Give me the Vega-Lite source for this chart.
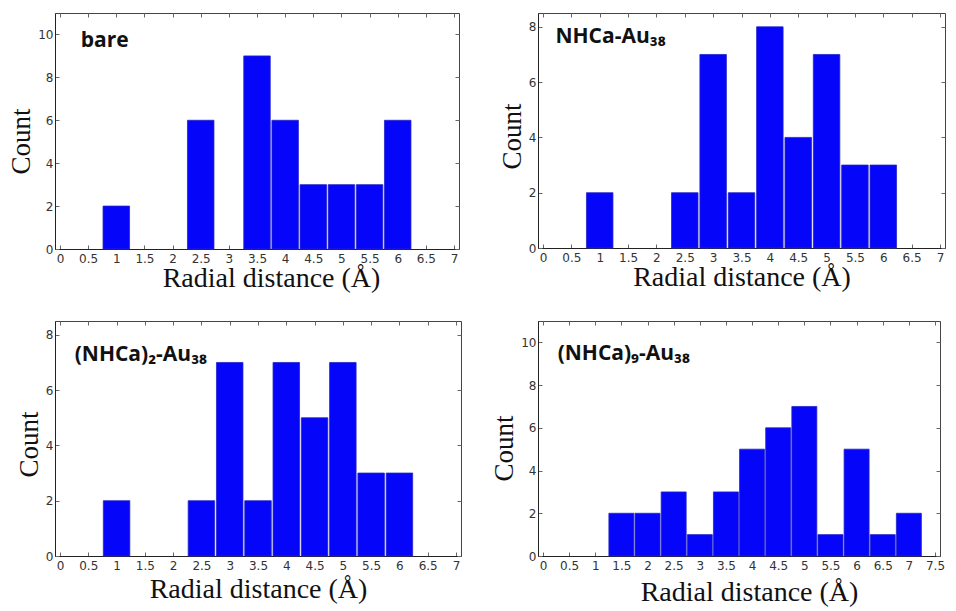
{
  "$schema": "https://vega.github.io/schema/vega-lite/v6.json",
  "background": "white",
  "padding": {"left": 7, "top": 12, "right": 6, "bottom": 5},
  "datasets": {
    "bare": [{"r": 1, "count": 2}, {"r": 2.5, "count": 6}, {"r": 3.5, "count": 9}, {"r": 4, "count": 6}, {"r": 4.5, "count": 3}, {"r": 5, "count": 3}, {"r": 5.5, "count": 3}, {"r": 6, "count": 6}],
    "n1": [{"r": 1, "count": 2}, {"r": 2.5, "count": 2}, {"r": 3, "count": 7}, {"r": 3.5, "count": 2}, {"r": 4, "count": 8}, {"r": 4.5, "count": 4}, {"r": 5, "count": 7}, {"r": 5.5, "count": 3}, {"r": 6, "count": 3}],
    "n2": [{"r": 1, "count": 2}, {"r": 2.5, "count": 2}, {"r": 3, "count": 7}, {"r": 3.5, "count": 2}, {"r": 4, "count": 7}, {"r": 4.5, "count": 5}, {"r": 5, "count": 7}, {"r": 5.5, "count": 3}, {"r": 6, "count": 3}],
    "n9": [{"r": 1.5, "count": 2}, {"r": 2, "count": 2}, {"r": 2.5, "count": 3}, {"r": 3, "count": 1}, {"r": 3.5, "count": 3}, {"r": 4, "count": 5}, {"r": 4.5, "count": 6}, {"r": 5, "count": 7}, {"r": 5.5, "count": 1}, {"r": 6, "count": 5}, {"r": 6.5, "count": 1}, {"r": 7, "count": 2}],
    "one": [{"k": 1}]
  },
  "config": {
    "view": {"stroke": "#444", "strokeWidth": 1},
    "axis": {
      "labelFont": "DejaVu Sans", "labelFontSize": 12, "labelColor": "#333", "labelOverlap": false, "labelFlush": false,
      "titleFont": "Liberation Serif", "titleFontWeight": "normal", "titleColor": "#111",
      "domainColor": "#222", "tickColor": "#666", "tickSize": -4, "grid": false
    },
    "text": {"font": "Open Sans", "fontWeight": "bold", "fontSize": 21, "align": "left", "baseline": "alphabetic", "color": "#111"}
  },
  "columns": 2,
  "spacing": {"column": 28, "row": 27},
  "concat": [
    {
      "width": 404, "height": 236,
      "resolve": {"axis": {"x": "independent", "y": "independent"}},
      "layer": [
        {
          "data": {"name": "bare"},
          "mark": {"type": "bar", "width": 26.5, "color": "#0505fa", "stroke": "#2424c8", "strokeWidth": 0.8},
          "encoding": {
            "x": {"field": "r", "type": "quantitative", "scale": {"domain": [0, 7], "nice": false}, "axis": {"values": [0, 0.5, 1, 1.5, 2, 2.5, 3, 3.5, 4, 4.5, 5, 5.5, 6, 6.5, 7], "format": "~g", "title": "Radial distance (Å)", "titleFontSize": 28, "labelPadding": 8, "titlePadding": 0, "titleX": 216}},
            "y": {"field": "count", "type": "quantitative", "scale": {"domain": [0, 11], "nice": false}, "axis": {"values": [0, 2, 4, 6, 8, 10], "title": "Count", "titleFontSize": 27, "labelPadding": 6, "titlePadding": 2, "titleY": 128}}
          }
        },
        {
          "data": {"name": "one"},
          "mark": {"type": "text"},
          "encoding": {
            "x": {"datum": 0.37, "type": "quantitative", "axis": {"orient": "top", "values": [0, 0.5, 1, 1.5, 2, 2.5, 3, 3.5, 4, 4.5, 5, 5.5, 6, 6.5, 7], "labels": false, "domain": false, "title": null}},
            "y": {"datum": 9.4, "type": "quantitative", "axis": {"orient": "right", "values": [0, 2, 4, 6, 8, 10], "labels": false, "domain": false, "title": null}},
            "text": {"value": "bare"}
          }
        }
      ]
    },
    {
      "width": 407, "height": 235,
      "resolve": {"axis": {"x": "independent", "y": "independent"}},
      "layer": [
        {
          "data": {"name": "n1"},
          "mark": {"type": "bar", "width": 26.5, "color": "#0505fa", "stroke": "#2424c8", "strokeWidth": 0.8},
          "encoding": {
            "x": {"field": "r", "type": "quantitative", "scale": {"domain": [0, 7], "nice": false}, "axis": {"values": [0, 0.5, 1, 1.5, 2, 2.5, 3, 3.5, 4, 4.5, 5, 5.5, 6, 6.5, 7], "format": "~g", "title": "Radial distance (Å)", "titleFontSize": 28, "labelPadding": 8, "titlePadding": 0}},
            "y": {"field": "count", "type": "quantitative", "scale": {"domain": [0, 8.5], "nice": false}, "axis": {"values": [0, 2, 4, 6, 8], "title": "Count", "titleFontSize": 27, "labelPadding": 6, "titlePadding": 2, "titleY": 123}}
          }
        },
        {
          "data": {"name": "one"},
          "mark": {"type": "text"},
          "encoding": {
            "x": {"datum": 0.22, "type": "quantitative", "axis": {"orient": "top", "values": [0, 0.5, 1, 1.5, 2, 2.5, 3, 3.5, 4, 4.5, 5, 5.5, 6, 6.5, 7], "labels": false, "domain": false, "title": null}},
            "y": {"datum": 7.4, "type": "quantitative", "axis": {"orient": "right", "values": [0, 2, 4, 6, 8], "labels": false, "domain": false, "title": null}},
            "text": {"value": "NHCa-Au₃₈"}
          }
        }
      ]
    },
    {
      "width": 406, "height": 235,
      "resolve": {"axis": {"x": "independent", "y": "independent"}},
      "layer": [
        {
          "data": {"name": "n2"},
          "mark": {"type": "bar", "width": 26.5, "color": "#0505fa", "stroke": "#2424c8", "strokeWidth": 0.8},
          "encoding": {
            "x": {"field": "r", "type": "quantitative", "scale": {"domain": [0, 7], "nice": false}, "axis": {"values": [0, 0.5, 1, 1.5, 2, 2.5, 3, 3.5, 4, 4.5, 5, 5.5, 6, 6.5, 7], "format": "~g", "title": "Radial distance (Å)", "titleFontSize": 28, "labelPadding": 8, "titlePadding": 4}},
            "y": {"field": "count", "type": "quantitative", "scale": {"domain": [0, 8.5], "nice": false}, "axis": {"values": [0, 2, 4, 6, 8], "title": "Count", "titleFontSize": 27, "labelPadding": 6, "titlePadding": 2, "titleY": 123}}
          }
        },
        {
          "data": {"name": "one"},
          "mark": {"type": "text"},
          "encoding": {
            "x": {"datum": 0.26, "type": "quantitative", "axis": {"orient": "top", "values": [0, 0.5, 1, 1.5, 2, 2.5, 3, 3.5, 4, 4.5, 5, 5.5, 6, 6.5, 7], "labels": false, "domain": false, "title": null}},
            "y": {"datum": 7.07, "type": "quantitative", "axis": {"orient": "right", "values": [0, 2, 4, 6, 8], "labels": false, "domain": false, "title": null}},
            "text": {"value": "(NHCa)₂-Au₃₈"}
          }
        }
      ]
    },
    {
      "width": 402, "height": 235,
      "resolve": {"axis": {"x": "independent", "y": "independent"}},
      "layer": [
        {
          "data": {"name": "n9"},
          "mark": {"type": "bar", "width": 25, "color": "#0505fa", "stroke": "#2424c8", "strokeWidth": 0.8},
          "encoding": {
            "x": {"field": "r", "type": "quantitative", "scale": {"domain": [0, 7.5], "nice": false}, "axis": {"values": [0, 0.5, 1, 1.5, 2, 2.5, 3, 3.5, 4, 4.5, 5, 5.5, 6, 6.5, 7, 7.5], "format": "~g", "title": "Radial distance (Å)", "titleFontSize": 28, "labelPadding": 8, "titlePadding": 7, "titleX": 211}},
            "y": {"field": "count", "type": "quantitative", "scale": {"domain": [0, 11], "nice": false}, "axis": {"values": [0, 2, 4, 6, 8, 10], "title": "Count", "titleFontSize": 27, "labelPadding": 6, "titlePadding": 2, "titleY": 127}}
          }
        },
        {
          "data": {"name": "one"},
          "mark": {"type": "text"},
          "encoding": {
            "x": {"datum": 0.28, "type": "quantitative", "axis": {"orient": "top", "values": [0, 0.5, 1, 1.5, 2, 2.5, 3, 3.5, 4, 4.5, 5, 5.5, 6, 6.5, 7, 7.5], "labels": false, "domain": false, "title": null}},
            "y": {"datum": 9.17, "type": "quantitative", "axis": {"orient": "right", "values": [0, 2, 4, 6, 8, 10], "labels": false, "domain": false, "title": null}},
            "text": {"value": "(NHCa)₉-Au₃₈"}
          }
        }
      ]
    }
  ]
}
